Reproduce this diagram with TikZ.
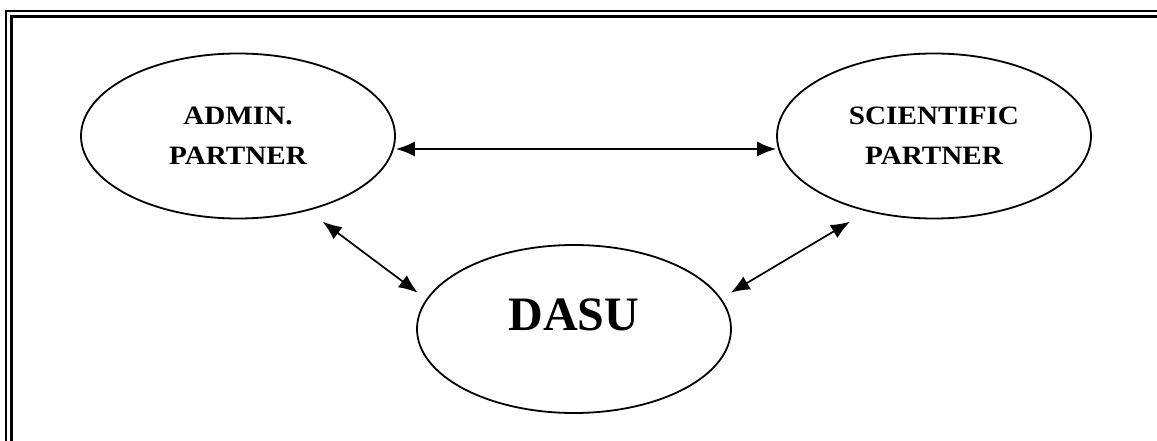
\documentclass[tikz,border=0pt]{standalone}
\usepackage{fontspec}
\setmainfont{Liberation Serif}
\newfontfamily\partnerfont[FakeStretch=1.1]{Liberation Serif}
\usetikzlibrary{shapes.geometric,arrows.meta}
\tikzset{
  party/.style={draw, ellipse, line width=1.8pt, inner sep=0pt,
    minimum width=314pt, minimum height=165pt},
  partytext/.style={align=center, inner sep=0pt,
    font=\partnerfont\bfseries\fontsize{26.5pt}{40pt}\selectfont},
  link/.style={line width=1.7pt, {Latex[length=19pt,width=15pt]}-{Latex[length=19pt,width=15pt]}},
}
\begin{document}
\begin{tikzpicture}[x=1pt,y=-1pt]
  \useasboundingbox (0,0) rectangle (1157,441);
  \clip (0,0) rectangle (1157,441);
  % double page border (thin outside, thick inside)
  \draw[line width=2.3pt] (6.2,460) -- (6.2,11) -- (1180,11);
  \draw[line width=3.3pt] (11.7,460) -- (11.7,16.7) -- (1180,16.7);

  % the three partners
  \node[party, partytext] (admin) at (238,136) {ADMIN.\\PARTNER};
  \node[party, partytext] (sci) at (934,136) {SCIENTIFIC\\PARTNER};
  \node[party, minimum height=168pt] (dasu) at (574,329) {};
  \node[font=\bfseries\fontsize{48pt}{56pt}\selectfont, inner sep=0pt, anchor=base]
    (dasulabel) at (574,330) {DASU};

  % arrow ends near the partner ellipses
  \coordinate (adminlow) at (322.7,221.7);
  \coordinate (dasuleft) at (417.7,292.7);
  \coordinate (scilow) at (850,221.7);
  \coordinate (dasuright) at (730.7,292.7);

  \draw[link] ([yshift=-13pt]admin.east) -- ([yshift=-13pt]sci.west);
  \draw[link] (adminlow) -- (dasuleft);
  \draw[link] (scilow) -- (dasuright);
\end{tikzpicture}
\end{document}
